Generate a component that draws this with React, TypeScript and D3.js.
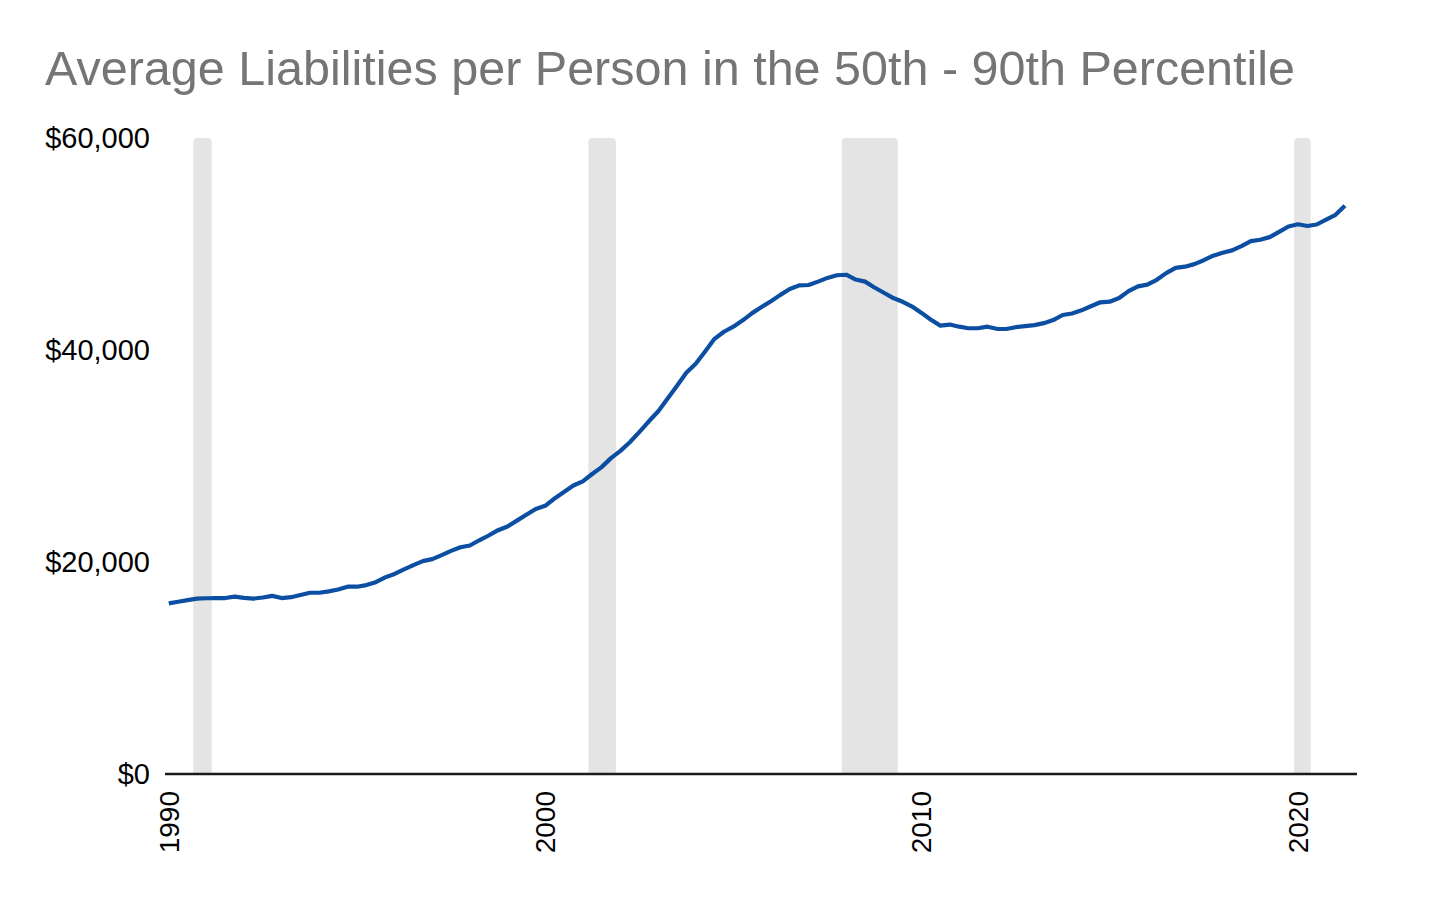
import React, { useEffect, useRef } from 'react';
import * as d3 from 'd3';

// quarterly, starting 1990 Q1
const startYear = 1990;
const liabilities = [
  16100, 16250, 16400, 16550, 16580, 16600, 16600, 16730, 16620, 16550,
  16650, 16800, 16600, 16680, 16880, 17100, 17100, 17230, 17400, 17670,
  17670, 17820, 18100, 18550, 18870, 19300, 19700, 20080, 20270, 20650,
  21050, 21390, 21560, 22050, 22500, 23000, 23350, 23900, 24450, 25000,
  25300,
  25990, 26600, 27220, 27610, 28300, 28950, 29800, 30480, 31300,
  32250, 33250, 34200, 35400, 36600, 37850, 38700, 39850, 41050, 41720,
  42200, 42800, 43480, 44050, 44600, 45200, 45750, 46100, 46130, 46450,
  46800, 47050,
  47100, 46650, 46450, 45900, 45400, 44900, 44550, 44100,
  43500, 42850, 42300, 42400, 42200, 42050, 42050, 42200, 42000, 41980,
  42150, 42250, 42350, 42530, 42820, 43300, 43440, 43740, 44130, 44500,
  44560, 44900, 45550, 46000, 46170, 46620, 47250, 47750, 47860, 48100,
  48470, 48900, 49180, 49400, 49800, 50270, 50400, 50650, 51150, 51650,
  51860, 51700, 51840, 52300, 52750, 53600,
];

const recessionStart = [1990.65, 2001.15, 2007.88, 2019.9];
const recessionEnd = [1991.14, 2001.88, 2009.37, 2020.34];

const yearTicks = [1990, 2000, 2010, 2020];
const valueTicks = [0, 20000, 40000, 60000];

const title = 'Average Liabilities per Person in the 50th - 90th Percentile';

const Chart: React.FC = () => {
  const ref = useRef<SVGSVGElement | null>(null);

  useEffect(() => {
    if (!ref.current) return;
    const width = 1456;
    const height = 900;
    const font = '"Liberation Sans", Arial, sans-serif';

    const svg = d3.select(ref.current);
    svg.selectAll('*').remove();
    svg.attr('width', width).attr('height', height);

    svg.append('rect').attr('width', width).attr('height', height).attr('fill', '#fff');

    const points = liabilities.map((v, i) => ({ t: startYear + i / 4, v }));

    const x = d3.scaleLinear().domain([1989.9, 2021.57]).range([165, 1357]);
    const y = d3.scaleLinear().domain([0, 60000]).range([774, 138]);

    // Title
    svg.append('text')
      .attr('x', 45)
      .attr('y', 85)
      .attr('font-family', font)
      .attr('font-size', 48.5)
      .attr('fill', '#757575')
      .text(title);

    // Recession shading
    svg.selectAll('path.rec')
      .data(recessionStart.map((s, i) => ({ s, e: recessionEnd[i] })))
      .enter()
      .append('path')
      .attr('class', 'rec')
      .attr('fill', '#e4e4e4')
      .attr('d', d => {
        const x0 = x(d.s), x1 = x(d.e), top = y(60000), bot = y(0), r = 4;
        return `M${x0},${bot}V${top + r}Q${x0},${top} ${x0 + r},${top}H${x1 - r}Q${x1},${top} ${x1},${top + r}V${bot}Z`;
      });

    // Y labels
    svg.selectAll('text.ylab')
      .data(valueTicks)
      .enter()
      .append('text')
      .attr('class', 'ylab')
      .attr('x', 150)
      .attr('y', d => y(d))
      .attr('dy', '0.35em')
      .attr('text-anchor', 'end')
      .attr('font-family', font)
      .attr('font-size', 29)
      .attr('fill', '#000')
      .text(d => '$' + d3.format(',')(d));

    // X labels
    svg.selectAll('text.xlab')
      .data(yearTicks)
      .enter()
      .append('text')
      .attr('class', 'xlab')
      .attr('transform', d => `translate(${x(d)},791) rotate(-90)`)
      .attr('dy', '0.35em')
      .attr('text-anchor', 'end')
      .attr('font-family', font)
      .attr('font-size', 28)
      .attr('fill', '#000')
      .text(d => String(d));

    // Baseline axis
    svg.append('line')
      .attr('x1', x.range()[0])
      .attr('x2', x.range()[1])
      .attr('y1', y(0))
      .attr('y2', y(0))
      .attr('stroke', '#1a1a1a')
      .attr('stroke-width', 2.4);

    // Line
    const line = d3.line<{ t: number; v: number }>()
      .x(d => x(d.t))
      .y(d => y(d.v));

    svg.append('path')
      .datum(points)
      .attr('d', line)
      .attr('fill', 'none')
      .attr('stroke', '#0b4ea2')
      .attr('stroke-width', 4.2)
      .attr('stroke-linejoin', 'round');
  }, []);

  return <svg ref={ref} style={{ position: 'absolute', left: 0, top: 0 }} />;
};

export default function App() {
  return <Chart />;
}
